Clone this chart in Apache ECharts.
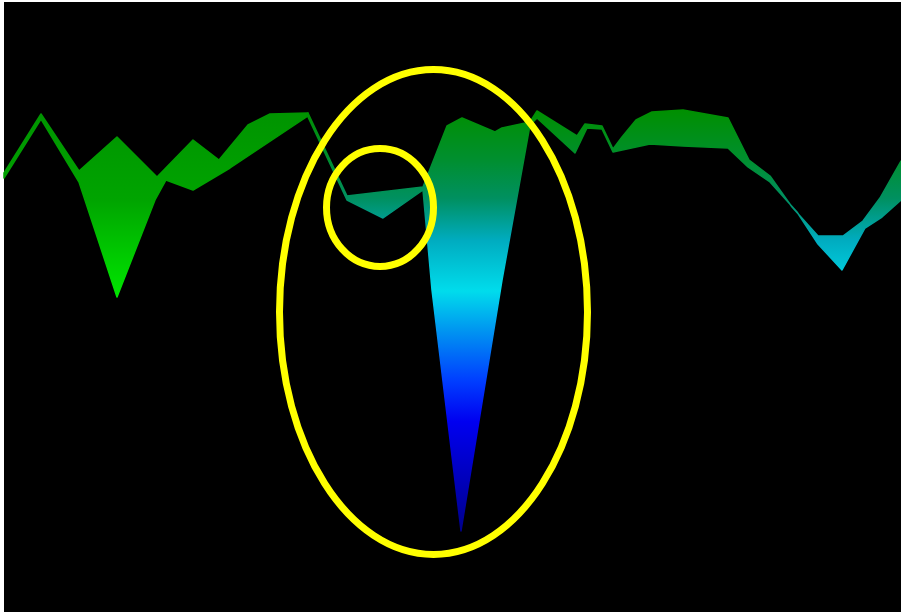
<!DOCTYPE html>
<html>
<head>
<meta charset="utf-8">
<script src="https://cdn.jsdelivr.net/npm/echarts@6/dist/echarts.min.js"></script>
<style>
html,body{margin:0;padding:0;background:#ffffff;}
#c{width:901px;height:615px;}
</style>
</head>
<body>
<div id="c"></div>
<script>
// Horizontal position (0..897) and level (0 = bottom .. 610 = top)
// Left band (green section)
const leftUpper = [[0,439],[37,498],[75,441],[113,475],[153,435],[189,472],[215,452],[244,487],[266,498],[304,499]];
const leftLower = [[0,434],[37,493],[75,430],[113,315],[151,412],[162,432],[189,422],[226,444],[304,496]];
// Right band (green -> cyan -> blue section)
const rightUpper = [[304,499],[343,416],[419,425],[443,486],[458,494],[491,480],[498,484],[526,490],[533,501],[573,476],[581,488],[598,486],[609,463],[618,475],[632,492],[648,500],[679,502],[724,494],[745,452],[766,436],[788,405],[814,376],[839,376],[859,391],[876,414],[897,451]];
const rightLower = [[304,495],[343,412],[379,394],[419,422],[428,322],[457,81],[498,332],[526,487],[533,494],[571,459],[583,484],[598,483],[609,460],[646,468],[679,466],[724,464],[744,445],[766,430],[793,400],[814,368],[838,342],[861,384],[878,395],[897,412]];
// Highlight ellipses: [centerX, centerY, radiusX, radiusY]
const highlights = [[429.5,300,154,242.5],[376,404.5,53.5,59]];

const leftStops = [
  {offset:0, color:'#009400'},
  {offset:0.47, color:'#00a400'},
  {offset:1, color:'#00e600'}
];
const rightStops = [
  {offset:0, color:'#008f00'},
  {offset:0.12, color:'#008f30'},
  {offset:0.21, color:'#009060'},
  {offset:0.31, color:'#00acc0'},
  {offset:0.43, color:'#00dcec'},
  {offset:0.52, color:'#0098f0'},
  {offset:0.64, color:'#0040ff'},
  {offset:0.74, color:'#0000f0'},
  {offset:1, color:'#00008c'}
];

function bandRenderer(upper, lower, stops){
  return function(params, api){
    const pts = [];
    upper.forEach(p => pts.push(api.coord(p)));
    for (let i = lower.length - 1; i >= 0; i--) pts.push(api.coord(lower[i]));
    let minV = Infinity, maxV = -Infinity;
    upper.concat(lower).forEach(p => { minV = Math.min(minV, p[1]); maxV = Math.max(maxV, p[1]); });
    const y0 = api.coord([0, maxV])[1];
    const y1 = api.coord([0, minV])[1];
    const grad = new echarts.graphic.LinearGradient(0, y0, 0, y1, stops, true);
    return {
      type: 'polygon',
      shape: {points: pts},
      style: {fill: grad, stroke: grad, lineWidth: 1.5, lineJoin: 'round'}
    };
  };
}

const chart = echarts.init(document.getElementById('c'), null, {renderer:'canvas'});
chart.setOption({
  animation: false,
  backgroundColor: '#ffffff',
  grid: {left:4, right:0, top:2, bottom:3, show:true, backgroundColor:'#000000', borderWidth:0},
  xAxis: {type:'value', min:0, max:897, show:false},
  yAxis: {type:'value', min:0, max:610, show:false},
  series: [
    {type:'custom', data:[[0,0]], clip:false, silent:true, renderItem: bandRenderer(leftUpper, leftLower, leftStops)},
    {type:'custom', data:[[0,0]], clip:false, silent:true, renderItem: bandRenderer(rightUpper, rightLower, rightStops)},
    {type:'custom', data: highlights, clip:false, silent:true, encode:{x:0, y:1},
      renderItem: function(params, api){
        const c = api.coord([api.value(0), api.value(1)]);
        const s = api.size([api.value(2), api.value(3)]);
        return {type:'ellipse', shape:{cx:c[0], cy:c[1], rx:s[0], ry:s[1]},
          style:{fill:'none', stroke:'#ffff00', lineWidth:7}};
      }}
  ]
});
</script>
</body>
</html>
